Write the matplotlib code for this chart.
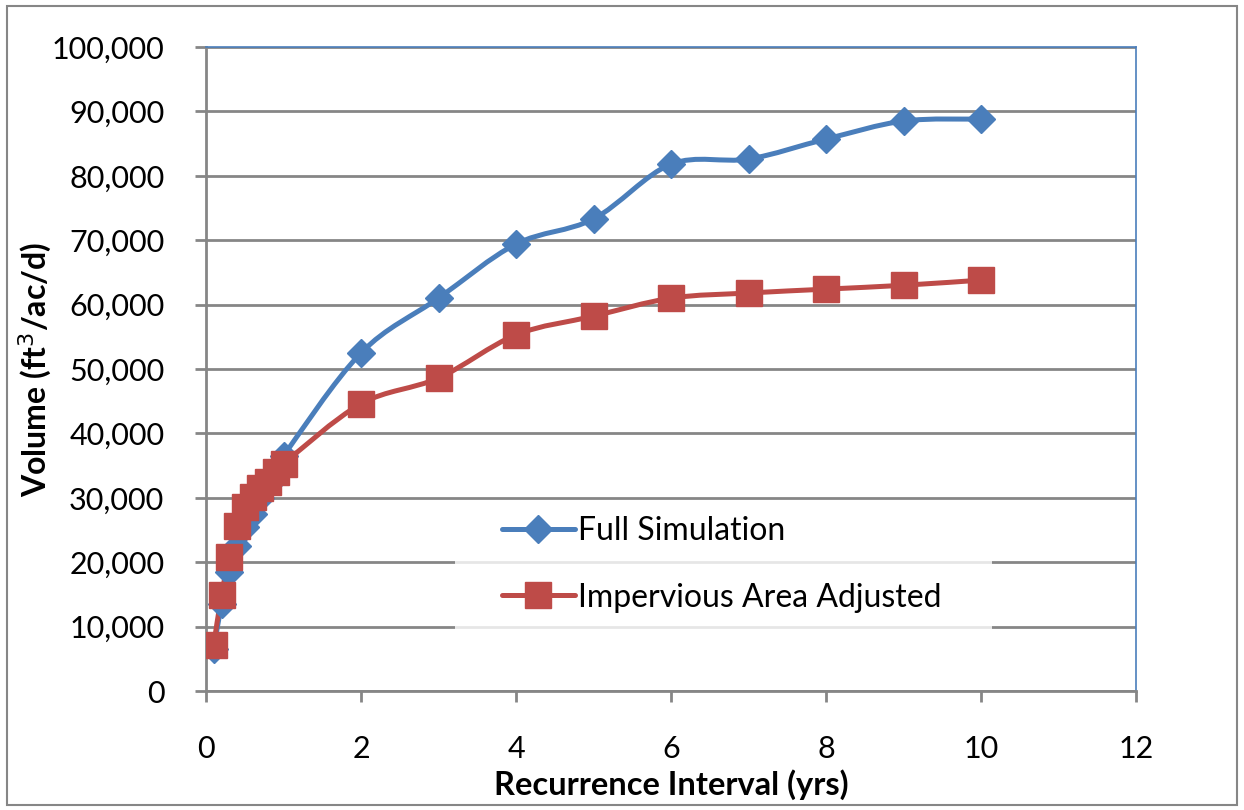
import numpy as np
import matplotlib
matplotlib.use("Agg")
import matplotlib.pyplot as plt
from matplotlib.path import Path
from matplotlib.patches import PathPatch, Rectangle
from matplotlib.ticker import FuncFormatter

plt.rcParams['font.family'] = ['Lato', 'DejaVu Sans']

# Recurrence interval (yrs)
interval = [0.1, 0.2, 0.3, 0.4, 0.5, 0.6, 0.7, 0.8, 0.9, 1.0,
            2, 3, 4, 5, 6, 7, 8, 9, 10]
# Volume (ft3/ac/d)
full_sim = [6500, 13500, 18500, 22500, 25500, 27500, 30000, 32000, 34000, 36500,
            52500, 61000, 69400, 73300, 81800, 82600, 85700, 88500, 88800]
imperv_adj = [7200, 14900, 20800, 25600, 28600, 30200, 31500, 32500, 34000, 35300,
              44600, 48600, 55300, 58200, 61000, 61800, 62400, 63000, 63800]

BLUE = '#4a7ebb'
RED = '#be4b48'
GRAY = '#868686'


def smooth_path(x, y):
    # Bezier path through the points (Excel-style smoothed line)
    x = np.asarray(x, float)
    y = np.asarray(y, float)
    verts = [(x[0], y[0])]
    codes = [Path.MOVETO]
    n = len(x)
    for i in range(n - 1):
        p0 = np.array([x[max(i - 1, 0)], y[max(i - 1, 0)]])
        p1 = np.array([x[i], y[i]])
        p2 = np.array([x[i + 1], y[i + 1]])
        p3 = np.array([x[min(i + 2, n - 1)], y[min(i + 2, n - 1)]])
        c1 = p1 + (p2 - p0) / 6.0
        c2 = p2 - (p3 - p1) / 6.0
        verts += [tuple(c1), tuple(c2), tuple(p2)]
        codes += [Path.CURVE4] * 3
    return Path(verts, codes)


fig = plt.figure(figsize=(12.44, 8.10), dpi=100)
ax = fig.add_axes([0.1656, 0.1469, 0.9132 - 0.1656, 0.942 - 0.1469])

fig.patches.append(Rectangle((0.006, 0.006), 0.988, 0.986, transform=fig.transFigure,
                             fill=False, edgecolor=GRAY, linewidth=1.5))

LW = 3.6
for xs, ys, col in [(interval, full_sim, BLUE), (interval, imperv_adj, RED)]:
    ax.add_patch(PathPatch(smooth_path(xs, ys), facecolor='none', edgecolor=col,
                           linewidth=LW, capstyle='round', joinstyle='round', zorder=3))

ax.plot(interval, full_sim, linestyle='none', marker='D', markersize=14.5,
        color=BLUE, zorder=4)
ax.plot(interval, imperv_adj, linestyle='none', marker='s', markersize=19,
        color=RED, zorder=5)

# translucent legend background
ax.add_patch(Rectangle((0.268, 0.079), 0.577, 0.21, transform=ax.transAxes,
                       facecolor='white', alpha=0.8, edgecolor='none', zorder=2.5))

# legend proxies
ax.plot([], [], color=BLUE, linewidth=LW, marker='D', markersize=14.5,
        label='Full Simulation', solid_capstyle='round')
ax.plot([], [], color=RED, linewidth=LW, marker='s', markersize=19,
        label='Impervious Area Adjusted', solid_capstyle='round')
leg = ax.legend(loc='upper left', bbox_to_anchor=(0.318, 0.272), frameon=False,
                fontsize=23, handlelength=2.3, handletextpad=0.1, labelspacing=1.15,
                borderpad=0, borderaxespad=0)
leg.set_zorder(6)

ax.set_xlim(0, 12)
ax.set_ylim(0, 100000)
ax.set_xticks(np.arange(0, 13, 2))
ax.set_yticks(np.arange(0, 100001, 10000))
ax.yaxis.set_major_formatter(FuncFormatter(lambda v, p: f"{int(v):,}"))

ax.grid(True, axis='y', color=GRAY, linewidth=2)
ax.set_axisbelow(True)

for s in ['left', 'bottom']:
    ax.spines[s].set_color(GRAY)
    ax.spines[s].set_linewidth(2)
for s in ['top', 'right']:
    ax.spines[s].set_color(BLUE)
    ax.spines[s].set_linewidth(1.2)

ax.tick_params(axis='both', direction='out', length=8, width=2, color=GRAY,
               labelsize=22)
ax.tick_params(axis='y', pad=22)
ax.tick_params(axis='x', pad=24)

ax.set_xlabel('Recurrence Interval (yrs)', fontsize=23.5, fontweight='bold', labelpad=4)
ax.set_ylabel('Volume (ft$^3$/ac/d)', fontsize=23, fontweight='bold')
ax.yaxis.set_label_coords(-0.163, 0.5)

fig.savefig('out.png', dpi=100)
